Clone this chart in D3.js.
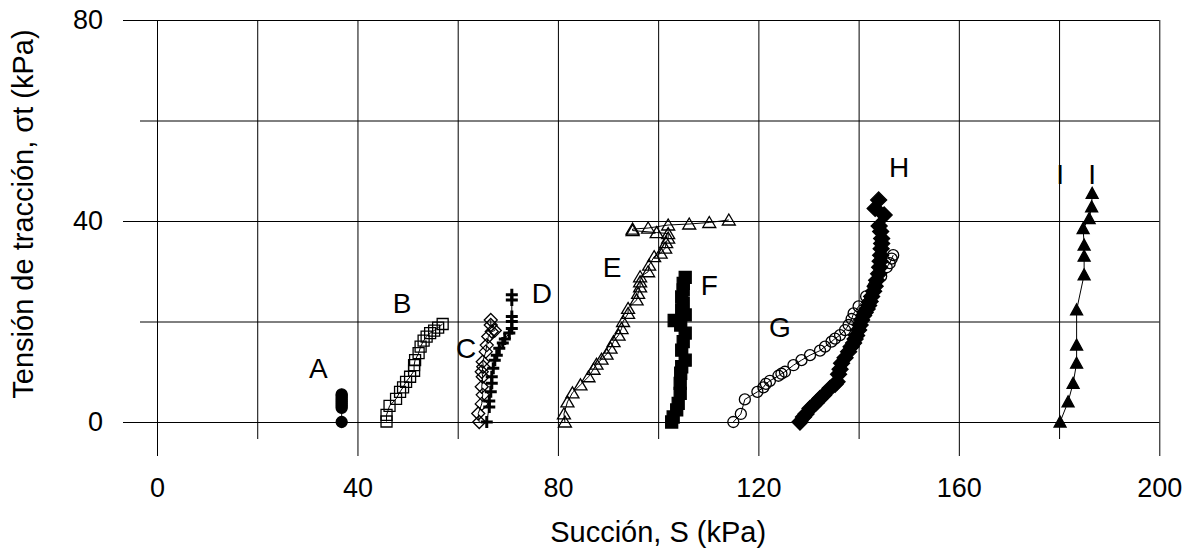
<!DOCTYPE html>
<html><head><meta charset="utf-8">
<script src="https://cdn.jsdelivr.net/npm/d3@7"></script>
<style>
html,body{margin:0;padding:0;background:#fff;}
svg{display:block;font-family:"Liberation Sans",Arial,sans-serif;}
</style></head>
<body>
<svg id="c" width="1194" height="549"></svg>
<script>
// ---- data (x = Succión kPa, y = Tensión kPa) ----
const seriesA = [[36.85,0],[36.85,2.8],[36.85,3.2],[36.85,3.6],[36.85,4.0],[36.85,4.4],[36.85,4.8],[36.85,5.2],[36.85,5.5]];
const seriesB = [[45.8,0.1],[45.8,1.4],[46.4,3.2],[47.7,4.6],[48.5,6],[49.1,6.9],[49.7,8],[50.5,9],[51.3,10.2],[51.3,11.3],[51.5,12.3],[52.2,13.7],[52.6,15],[53.2,16.2],[53.8,17],[54.5,17.7],[55.3,18.2],[56.1,18.8],[57,19.5]];
const seriesC = [[64.3,0],[64.1,1.7],[64.8,3.6],[65,5.4],[64.8,7],[65,9],[64.8,10],[65.1,11],[65,12],[65.6,14],[65.8,15.3],[66.1,17],[66.8,18],[67.4,18.2],[66.6,19.3],[66.6,20.3]];
const seriesD = [[65.8,0],[66.3,3],[66.3,4.2],[66.6,6],[66.8,7.7],[66.8,9],[67.1,10.7],[67.4,12.3],[67.8,13.3],[68.3,14.7],[69,15.7],[69.4,16.5],[70.3,17.7],[70.8,18.6],[70.8,20],[70.8,21],[70.8,24.3],[70.8,25.3]];
const seriesE = [[81.4,0],[81.2,1.6],[81.9,4],[82.9,5.8],[84.5,7.4],[86.1,9],[87.1,10.5],[87.7,11.5],[88.7,12.5],[89.7,13.5],[90.5,14.7],[91.1,16],[92.1,17.3],[92.7,18.6],[93,20],[94,21.6],[94,22.6],[95.7,24.3],[96,25.6],[96.4,26.9],[96.4,27.9],[96.4,28.9],[98,29.9],[98.2,31.2],[99.2,32.9],[100.5,33.6],[101.4,34.6],[101.6,35.7],[102,36.6],[102,37.5],[99.7,37.7],[94.9,38.1],[94.9,38.4],[98,38.6],[102,39.2],[106.2,39.4],[110.2,39.7],[114.1,40.2]];
const seriesF = [[102.7,0],[103,1],[103.7,2.4],[104,3.7],[104.4,5.7],[104.4,7.7],[104.5,9.7],[104.7,11],[105.4,12.3],[104.7,14.3],[105,16],[105.4,17.7],[104.5,19.3],[103.2,20.2],[105.4,21.3],[104.7,22.3],[105,23.6],[104.7,24.9],[105,26.3],[105,27.6],[105.4,28.8]];
const seriesG = [[115,0],[116.5,1.6],[117.3,4.5],[119.8,6],[121,6.9],[121.5,7.6],[122.3,8.2],[124,9.2],[124.6,9.6],[125.3,10],[127,11.3],[128.6,12.3],[130.3,13.3],[132.3,14.2],[133.3,15],[134.6,16],[135.3,16.6],[136.3,17.3],[137.3,18.3],[138,19.3],[138.6,20.5],[139,21.6],[140,23],[141.5,25],[143,27],[144.5,29],[145.6,30.8],[146.2,31.6],[146.6,32.5],[146.9,33.2]];
const seriesH = [[128.3,0],[129,1],[129.5,1.6],[130.3,2.7],[131,3.3],[131.5,3.8],[132.3,4.7],[133,5.3],[134.3,6.7],[135.3,7.5],[135.7,8],[136,9.5],[136.3,10.5],[136.6,11.7],[137.3,12.8],[138,14],[138.5,15],[139,15.7],[139.3,16.5],[139.6,17.2],[140,18.3],[140.3,19.3],[140.6,20.3],[141,21.2],[141.3,21.8],[141.7,22.5],[142,23.2],[142.3,24],[142.6,25],[143,26],[143.3,27],[143.6,28.2],[144,29.5],[144.2,30.8],[144.3,32],[144.4,33.2],[144.5,34.5],[144.6,35.5],[144.6,36.5],[144.4,37.9],[144.1,39],[145.1,41.2],[143.3,42.5],[144,44.2]];
const seriesI = [[180.2,0],[181.8,4],[182.8,7.7],[183.5,11.7],[183.5,15.3],[183.5,22.3],[185,29.3],[185,33],[185,35.2],[184.8,38.5],[186,40.5],[186.5,42.8],[186.6,45.5]];

const seriesNames = ["A","B","C","D","E","F","G","H","I"];
const seriesMarkers = ["circleFill","squareOpen","diamondOpen","plus","triangleOpen","squareFill","circleOpen","diamondFill","triangleFill"];
// label anchors in data units
const labelText = ["A","B","C","D","E","F","G","H","I","I"];
const labelX = [32.2,48.9,61.7,76.8,90.8,110.2,124.3,148.1,180.2,186.6];
const labelY = [10.7,23.6,14.8,25.7,30.8,27.3,18.9,50.7,49.3,49.3];

const xTicksMajor = [0,40,80,120,160,200];
const xTicksMinor = [20,60,100,140,180];
const yTicksMajor = [0,40,80];
const yTicksMinor = [20,60];

const xTitle = "Succión, S (kPa)";
const yTitle = "Tensión de tracción, σt (kPa)";

// ---- drawing ----
const svg = d3.select("#c");
const x = d3.scaleLinear().domain([0,200]).range([157,1159.3]);
const y = d3.scaleLinear().domain([0,80]).range([422,20]);
const FS = 27;

// grid
const gGrid = svg.append("g");
gGrid.append("g").attr("transform",`translate(0,${y(0)})`)
  .call(d3.axisBottom(x).tickValues(xTicksMajor.concat(xTicksMinor)).tickSize(-(y(0)-y(80))).tickFormat(""))
  .call(g=>g.select(".domain").remove());
gGrid.append("g").attr("transform",`translate(${x(0)},0)`)
  .call(d3.axisLeft(y).tickValues(yTicksMajor.concat(yTicksMinor)).tickSize(-(x(200)-x(0))).tickFormat(""))
  .call(g=>g.select(".domain").remove());

// outward ticks + labels
svg.append("g").attr("transform",`translate(0,${y(0)})`)
  .call(d3.axisBottom(x).tickValues(xTicksMajor).tickSize(34).tickPadding(22).tickFormat(d3.format("d")))
  .call(g=>g.select(".domain").remove());
svg.append("g").attr("transform",`translate(0,${y(0)})`)
  .call(d3.axisBottom(x).tickValues(xTicksMinor).tickSize(17).tickFormat(""))
  .call(g=>g.select(".domain").remove());
svg.append("g").attr("transform",`translate(${x(0)},0)`)
  .call(d3.axisLeft(y).tickValues(yTicksMajor).tickSize(34).tickPadding(20).tickFormat(d3.format("d")))
  .call(g=>g.select(".domain").remove());
svg.append("g").attr("transform",`translate(${x(0)},0)`)
  .call(d3.axisLeft(y).tickValues(yTicksMinor).tickSize(17).tickFormat(""))
  .call(g=>g.select(".domain").remove());

svg.selectAll(".tick line").attr("stroke","#000").attr("stroke-width",1);
svg.selectAll(".tick text").attr("font-size",FS).attr("fill","#000")
  .attr("font-family","'Liberation Sans',Arial,sans-serif");

// titles
svg.append("text").attr("x",(x(0)+x(200))/2).attr("y",542).attr("text-anchor","middle")
  .attr("font-size",29).attr("fill","#000").text(xTitle);
svg.append("text").attr("transform",`translate(33,${(y(0)+y(80))/2-7}) rotate(-90)`).attr("text-anchor","middle")
  .attr("font-size",29).attr("fill","#000").text(yTitle);

// markers
function markerPath(type){
  switch(type){
    case "circleFill": case "circleOpen": return d3.symbol(d3.symbolCircle, 95)();
    case "squareOpen": return "M-5.5,-5.5H5.5V5.5H-5.5Z";
    case "squareFill": return "M-6,-6H6V6H-6Z";
    case "diamondOpen": return "M0,-6.5L6.5,0L0,6.5L-6.5,0Z";
    case "diamondFill": return "M0,-8L8,0L0,8L-8,0Z";
    case "triangleOpen": return "M0,-6L6.5,5H-6.5Z";
    case "triangleFill": return "M0,-6L6,5H-6Z";
    case "plus": return "M-6,0H6M0,-6V6";
  }
}
const allSeries = [seriesA,seriesB,seriesC,seriesD,seriesE,seriesF,seriesG,seriesH,seriesI];
const line = d3.line().x(d=>x(d[0])).y(d=>y(d[1]));
const gs = svg.append("g");
allSeries.forEach((data,i)=>{
  const g = gs.append("g");
  g.append("path").attr("d",line(data)).attr("fill","none").attr("stroke","#000").attr("stroke-width",1);
  const type = seriesMarkers[i];
  const filled = type.endsWith("Fill");
  g.selectAll("path.m").data(data).join("path").attr("class","m")
    .attr("transform",d=>`translate(${x(d[0])},${y(d[1])})`)
    .attr("d",markerPath(type))
    .attr("fill",filled?"#000":"none")
    .attr("stroke","#000")
    .attr("stroke-width",type==="plus"?3:1.3);
});

// series letters
svg.append("g").selectAll("text").data(labelText).join("text")
  .attr("x",(d,i)=>x(labelX[i])).attr("y",(d,i)=>y(labelY[i]))
  .attr("text-anchor","middle").attr("dy","0.36em")
  .attr("font-size",28).attr("fill","#000").text(d=>d);
</script>
</body></html>
